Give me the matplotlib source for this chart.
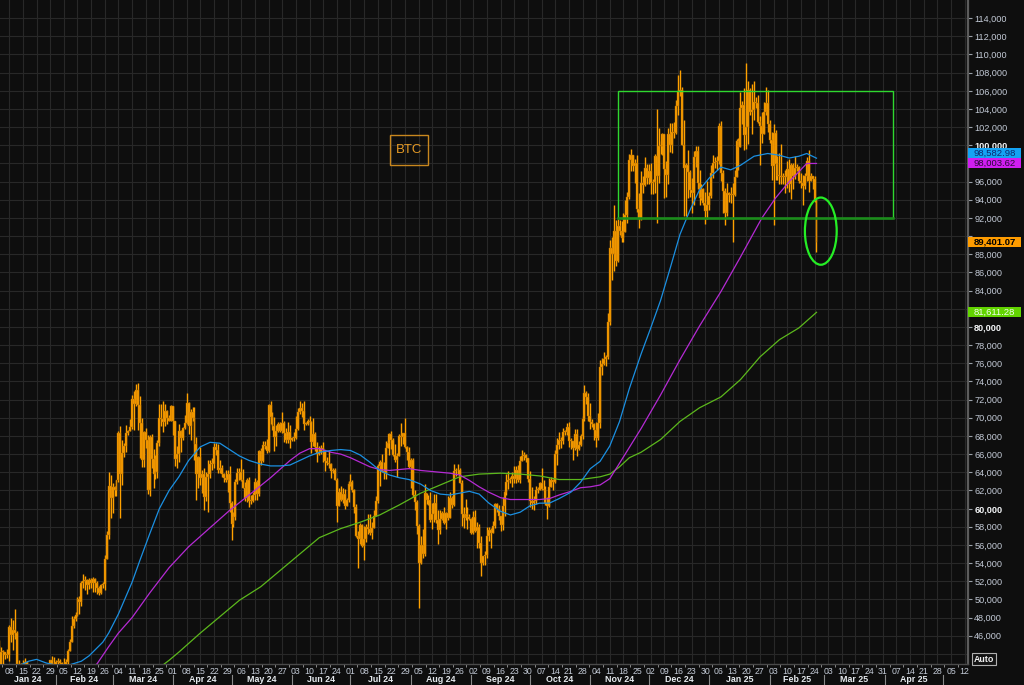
import matplotlib
matplotlib.use("Agg")
import matplotlib.pyplot as plt
import matplotlib.dates as mdates
import matplotlib.transforms as mtransforms
from matplotlib.patches import Rectangle, Ellipse
import numpy as np
import pandas as pd

plt.rcParams['font.family'] = ['Liberation Sans', 'DejaVu Sans']

# BTC daily candles from 1 Jan 2024, prices in $ thousands
first_open = 42.3

closes = [
    # Jan 24
    44.2, 44.9, 42.8, 44.2, 44.2, 43.9, 43.9, 47.0, 46.1, 46.6, 46.3, 42.9, 42.8, 41.7, 42.5, 43.1,
    42.7, 41.3, 41.6, 41.7, 41.6, 39.5, 39.8, 40.1, 40.0, 41.8, 42.1, 42.0, 43.3, 42.9, 42.6,
    # Feb 24
    43.1, 43.2, 43.0, 42.6, 42.7, 43.1, 44.3, 45.3, 47.1, 47.8, 48.3, 50.0, 49.7, 51.8, 52.0,
    52.1, 51.6, 52.1, 51.8, 52.3, 51.8, 51.3, 50.7, 51.6, 51.7, 54.5, 57.1, 62.5, 61.2,
    # Mar 24
    62.4, 62.0, 63.2, 68.3, 63.8, 66.1, 66.9, 68.3, 68.5, 69.0, 72.1, 71.5, 73.1, 71.4, 69.4, 65.3,
    68.4, 67.6, 62.0, 67.9, 65.5, 63.8, 64.0, 67.2, 70.0, 69.9, 69.5, 70.8, 70.0, 69.7, 71.3,
    # Apr 24
    69.7, 65.5, 66.0, 68.5, 67.8, 68.9, 69.4, 71.6, 69.1, 70.6, 70.0, 67.1, 63.8, 65.7, 63.4,
    63.8, 61.3, 63.5, 63.8, 64.9, 64.9, 66.8, 66.4, 64.3, 64.5, 63.8, 63.4, 63.1, 63.8, 60.6,
    # May 24
    58.3, 59.1, 62.9, 63.9, 64.0, 63.2, 62.3, 61.2, 63.1, 60.8, 60.8, 61.5, 62.9, 61.6, 66.3, 65.2,
    67.0, 66.9, 66.3, 71.4, 70.1, 69.1, 67.9, 68.5, 69.3, 68.5, 69.4, 68.3, 67.6, 68.4, 67.5,
    # Jun 24
    67.8, 67.8, 68.8, 70.6, 71.1, 70.8, 69.3, 69.3, 69.6, 69.5, 67.3, 68.2, 66.8, 66.0, 66.2,
    66.7, 66.5, 65.2, 65.0, 64.9, 64.1, 64.3, 63.2, 60.3, 61.8, 60.9, 61.6, 60.3, 61.0, 62.7,
    # Jul 24
    62.9, 62.1, 60.2, 57.0, 56.7, 58.2, 55.9, 56.7, 58.0, 57.7, 57.3, 57.9, 59.2, 60.8, 64.7, 65.1,
    64.1, 63.9, 66.7, 67.2, 68.2, 67.6, 65.9, 65.4, 65.8, 68.0, 67.9, 68.3, 66.8, 66.2, 64.6,
    # Aug 24
    65.4, 61.5, 60.7, 58.1, 54.0, 56.0, 55.0, 61.7, 60.9, 60.9, 58.7, 59.4, 60.6, 58.7, 57.6, 58.9,
    59.5, 58.4, 59.5, 59.0, 61.2, 60.4, 64.1, 64.2, 64.2, 62.8, 59.4, 59.0, 59.4, 59.1, 58.9,
    # Sep 24
    57.3, 59.1, 57.5, 58.0, 56.2, 54.0, 54.8, 54.9, 57.0, 57.6, 57.3, 58.1, 60.5, 60.0, 59.2,
    58.2, 60.3, 61.8, 62.9, 63.2, 63.3, 63.6, 63.3, 64.3, 63.1, 65.2, 65.8, 65.9, 65.6, 63.3,
    # Oct 24
    60.8, 60.6, 60.8, 62.1, 62.1, 62.8, 62.2, 62.1, 60.6, 60.3, 62.4, 63.2, 62.9, 66.0, 67.0, 67.6,
    67.4, 68.4, 68.4, 69.0, 67.4, 67.4, 66.7, 68.2, 66.6, 67.0, 68.0, 69.9, 72.7, 72.3, 70.2,
    # Nov 24
    69.5, 69.3, 68.7, 67.8, 69.4, 75.6, 75.9, 76.5, 76.7, 80.5, 88.7, 88.0, 90.6, 87.3, 91.1,
    90.6, 89.8, 90.5, 92.3, 94.3, 98.4, 98.9, 97.7, 98.0, 93.0, 91.9, 95.9, 95.6, 97.5, 96.4,
    # Dec 24
    97.2, 95.9, 96.0, 98.8, 96.6, 99.9, 99.9, 101.2, 97.4, 96.7, 101.2, 100.0, 101.5, 101.4, 104.3, 106.0,
    106.1, 100.0, 97.5, 97.8, 97.1, 95.1, 94.7, 98.7, 99.4, 95.8, 94.2, 95.2, 93.7, 92.8, 93.4,
    # Jan 25
    94.4, 96.9, 98.1, 98.2, 98.3, 102.1, 96.9, 95.0, 92.5, 94.7, 94.5, 94.5, 94.5, 96.5, 100.5, 99.8,
    104.1, 104.4, 101.1, 102.0, 106.1, 103.7, 103.9, 104.8, 104.7, 102.6, 102.1, 101.3, 103.7, 104.7, 102.4,
    # Feb 25
    100.6, 97.7, 101.4, 97.9, 96.6, 96.6, 96.5, 96.5, 96.5, 97.4, 95.7, 97.8, 96.6,
    97.5, 97.6, 96.1, 95.8, 95.5, 96.6, 98.3, 96.1, 96.6, 96.3, 94.0, 89.40107,
]

highs = [
    44.2, 45.9, 45.5, 44.8, 44.4, 44.2, 44.5, 47.2, 47.9, 47.7, 49.0, 46.5, 43.3, 43.0, 43.3, 43.6,
    43.2, 42.9, 42.2, 41.9, 41.9, 41.7, 40.5, 40.5, 40.3, 42.2, 42.2, 42.8, 43.3, 43.8, 43.7,
    43.3, 43.5, 43.4, 43.1, 43.5, 43.4, 44.5, 45.6, 48.2, 48.2, 48.6, 50.3, 50.4, 52.0, 52.8,
    52.6, 52.2, 52.4, 52.4, 52.5, 52.4, 52.0, 51.5, 51.7, 51.9, 54.9, 57.5, 64.0, 63.7,
    62.8, 62.5, 63.2, 68.5, 69.1, 67.6, 67.2, 69.2, 68.7, 69.9, 72.5, 72.9, 73.7, 73.8, 72.4, 70.0,
    68.5, 68.9, 68.1, 68.1, 68.2, 66.6, 65.9, 67.6, 71.5, 71.5, 71.8, 71.5, 70.9, 70.3, 71.4,
    71.3, 69.7, 66.9, 69.3, 68.7, 69.0, 70.3, 72.7, 71.7, 71.0, 71.2, 71.2, 67.9, 65.8, 66.8,
    64.3, 64.5, 64.0, 65.4, 65.4, 65.6, 67.2, 67.2, 67.1, 65.3, 64.8, 63.9, 64.3, 64.2, 64.7,
    60.8, 59.6, 63.3, 64.5, 64.5, 65.5, 64.4, 62.9, 63.4, 63.5, 61.5, 61.8, 63.4, 63.1, 66.4, 66.7,
    67.4, 67.4, 67.7, 71.5, 71.9, 70.6, 70.1, 69.2, 69.5, 69.5, 70.6, 69.6, 68.9, 69.5, 69.2,
    67.9, 68.4, 70.2, 71.1, 71.8, 71.6, 71.9, 69.5, 69.9, 70.2, 69.6, 70.0, 68.4, 67.3, 66.9,
    67.0, 67.3, 66.5, 65.7, 66.5, 65.0, 64.5, 64.5, 63.4, 62.3, 62.5, 62.3, 62.2, 61.2, 63.0,
    63.8, 63.2, 62.2, 60.5, 57.5, 58.4, 58.3, 58.1, 58.3, 59.4, 59.4, 58.5, 59.8, 61.4, 64.9, 65.3,
    66.0, 65.1, 67.4, 67.6, 68.3, 68.5, 67.8, 67.1, 66.1, 68.2, 69.4, 68.3, 70.0, 66.9, 66.8,
    65.6, 65.6, 62.1, 61.0, 58.3, 57.0, 57.7, 62.7, 61.7, 61.5, 61.8, 60.6, 61.6, 61.6, 59.8, 59.8,
    59.7, 60.2, 59.6, 61.4, 61.8, 61.4, 64.9, 64.5, 64.9, 64.5, 63.2, 60.2, 61.1, 60.2, 59.4,
    59.0, 59.7, 59.8, 58.5, 58.3, 57.0, 54.8, 55.3, 58.0, 58.0, 57.9, 58.6, 60.6, 60.6, 60.4,
    59.2, 61.3, 62.0, 63.8, 64.1, 63.5, 64.0, 64.7, 64.7, 64.8, 65.8, 66.5, 66.2, 66.0, 65.6,
    64.1, 62.4, 61.4, 62.5, 62.4, 62.9, 64.5, 63.2, 62.5, 61.3, 63.4, 63.5, 63.3, 66.5, 67.8, 68.4,
    67.9, 68.9, 68.7, 69.4, 69.5, 67.8, 67.4, 68.8, 68.8, 67.4, 68.2, 70.2, 73.6, 72.9, 72.7,
    71.6, 69.9, 69.4, 69.5, 70.5, 76.4, 76.6, 77.2, 76.9, 81.5, 89.6, 89.9, 93.4, 91.8, 91.9,
    91.8, 91.7, 92.6, 94.0, 94.9, 99.0, 99.6, 98.8, 98.5, 98.9, 94.7, 97.2, 96.6, 98.7, 97.9,
    97.9, 98.1, 96.3, 99.0, 104.0, 101.9, 100.5, 101.4, 101.2, 98.3, 101.9, 102.5, 102.5, 102.6, 105.0, 107.7,
    108.3, 106.4, 102.8, 98.0, 99.5, 97.3, 96.4, 99.4, 99.9, 99.9, 97.3, 95.7, 95.3, 94.9, 96.1,
    94.9, 97.8, 98.9, 98.7, 98.8, 102.5, 102.7, 97.3, 95.3, 95.8, 94.9, 95.4, 95.9, 97.3, 100.7, 100.8,
    105.9, 104.9, 106.3, 109.1, 107.1, 106.3, 106.8, 107.1, 105.3, 105.5, 103.2, 103.7, 104.8, 106.4, 106.1,
    102.8, 101.5, 102.4, 101.7, 98.8, 99.1, 100.1, 96.9, 97.3, 98.3, 98.5, 98.1, 98.0,
    98.8, 97.9, 97.7, 97.0, 96.7, 96.9, 98.7, 99.5, 96.9, 96.6, 96.6, 94.0,
]

lows = [
    42.2, 44.2, 40.8, 42.6, 42.5, 43.4, 43.6, 43.2, 45.3, 44.4, 45.6, 41.6, 42.4, 41.7, 41.7, 42.1,
    42.2, 40.7, 40.3, 41.5, 41.5, 39.5, 38.6, 39.5, 39.6, 39.8, 41.7, 41.6, 41.8, 42.7, 42.3,
    41.9, 42.6, 42.9, 42.2, 42.3, 42.6, 42.8, 44.3, 45.3, 46.9, 47.6, 48.2, 48.4, 49.3, 51.3,
    51.0, 50.6, 51.2, 51.3, 50.8, 50.8, 50.6, 50.5, 50.6, 51.3, 51.0, 54.4, 56.7, 59.0,
    59.5, 61.4, 61.4, 62.9, 59.0, 62.6, 65.7, 66.2, 68.1, 68.6, 68.8, 68.6, 71.3, 68.7, 65.6, 64.6,
    64.6, 66.7, 61.6, 61.4, 64.5, 62.3, 63.3, 63.4, 66.9, 69.1, 68.4, 69.1, 69.3, 69.6, 69.6,
    68.1, 64.7, 64.5, 65.1, 66.2, 67.5, 68.8, 69.3, 68.2, 67.5, 69.6, 65.3, 60.9, 62.3, 62.6,
    61.7, 59.8, 60.8, 59.6, 63.4, 64.2, 64.5, 65.9, 63.9, 63.9, 63.5, 62.9, 62.9, 61.8, 59.6,
    56.5, 58.0, 58.8, 62.7, 63.2, 63.0, 62.3, 60.8, 60.7, 60.2, 60.5, 60.7, 60.9, 60.9, 61.4, 64.8,
    65.1, 66.6, 66.1, 66.2, 69.3, 68.6, 66.3, 66.9, 68.4, 68.4, 68.3, 67.3, 67.2, 67.2, 66.7,
    67.4, 67.4, 67.7, 68.6, 70.4, 70.1, 68.6, 69.2, 69.2, 69.3, 66.1, 66.9, 66.3, 65.1, 65.9,
    66.0, 65.1, 64.1, 64.8, 64.5, 63.4, 63.9, 63.2, 58.5, 60.5, 60.8, 60.6, 60.0, 60.5, 60.7,
    62.5, 61.8, 59.5, 56.9, 53.5, 56.1, 55.8, 54.3, 56.3, 57.2, 57.1, 56.6, 57.9, 59.9, 60.6, 62.5,
    64.0, 63.3, 63.3, 66.7, 65.9, 66.6, 65.8, 65.1, 63.5, 65.8, 66.9, 67.1, 66.7, 65.4, 64.5,
    62.3, 61.3, 59.9, 57.2, 49.1, 53.9, 54.6, 54.8, 60.5, 60.4, 58.5, 57.7, 58.5, 58.4, 56.1, 57.2,
    58.8, 58.3, 57.8, 58.7, 59.0, 60.1, 60.3, 63.6, 63.8, 62.8, 58.1, 57.9, 58.8, 57.8, 58.7,
    57.2, 57.2, 57.4, 55.7, 55.7, 52.6, 53.8, 53.8, 54.6, 56.4, 55.7, 57.3, 57.9, 59.6, 58.7,
    57.5, 57.6, 59.2, 61.5, 62.2, 62.8, 62.4, 62.8, 62.8, 62.9, 62.8, 65.5, 65.4, 65.1, 62.9,
    60.2, 60.0, 59.9, 60.5, 61.7, 62.1, 62.1, 61.9, 60.4, 58.9, 60.2, 62.4, 62.0, 62.8, 64.8, 66.6,
    66.7, 67.1, 68.1, 68.1, 66.8, 66.6, 65.3, 66.5, 65.8, 66.5, 66.9, 67.7, 69.7, 71.5, 69.7,
    68.8, 69.0, 67.5, 66.8, 67.5, 68.9, 74.7, 75.8, 75.7, 76.5, 80.2, 85.2, 86.2, 86.7, 87.1,
    90.1, 89.3, 89.4, 90.8, 91.5, 94.1, 97.2, 97.2, 95.9, 92.7, 90.9, 91.8, 94.7, 95.5, 95.7,
    95.7, 94.6, 94.6, 94.8, 91.5, 95.9, 99.0, 98.9, 94.2, 94.3, 95.7, 99.3, 99.2, 100.8, 101.3, 103.3,
    105.4, 100.0, 92.2, 92.2, 94.2, 94.3, 92.5, 93.4, 97.6, 95.2, 93.4, 94.0, 93.4, 91.3, 91.9,
    92.9, 94.2, 96.4, 97.5, 97.3, 97.9, 96.1, 92.5, 91.2, 92.2, 93.8, 93.7, 89.3, 94.4, 96.5, 97.3,
    99.9, 102.3, 99.5, 99.6, 100.1, 103.3, 101.3, 102.8, 104.1, 102.5, 97.8, 100.3, 101.3, 103.3, 101.5,
    100.3, 96.2, 91.2, 96.2, 96.2, 95.7, 95.7, 95.7, 94.7, 95.3, 94.9, 94.1, 95.2,
    96.3, 97.2, 95.9, 95.3, 93.4, 95.2, 96.1, 94.9, 96.2, 95.2, 93.8, 88.2,
]

# moving averages ($ thousands)
ma50_dates = ["2024-01-03", "2024-01-12", "2024-01-18", "2024-01-22", "2024-01-27", "2024-02-02",
              "2024-02-08", "2024-02-14", "2024-02-18", "2024-02-25", "2024-02-28", "2024-03-04",
              "2024-03-11", "2024-03-15", "2024-03-20", "2024-03-25", "2024-03-30", "2024-04-04",
              "2024-04-09", "2024-04-15", "2024-04-20", "2024-04-25", "2024-04-30", "2024-05-05",
              "2024-05-10", "2024-05-16", "2024-05-21", "2024-05-26", "2024-05-31", "2024-06-05",
              "2024-06-10", "2024-06-15", "2024-06-21", "2024-06-26", "2024-07-01", "2024-07-06",
              "2024-07-11", "2024-07-16", "2024-07-21", "2024-07-26", "2024-07-31", "2024-08-06",
              "2024-08-11", "2024-08-16", "2024-08-21", "2024-08-26", "2024-08-31", "2024-09-05",
              "2024-09-10", "2024-09-16", "2024-09-21", "2024-09-26", "2024-10-01", "2024-10-06",
              "2024-10-11", "2024-10-16", "2024-10-22", "2024-10-27", "2024-11-01", "2024-11-06",
              "2024-11-11", "2024-11-16", "2024-11-21", "2024-11-27", "2024-12-02", "2024-12-07",
              "2024-12-12", "2024-12-17", "2024-12-22", "2024-12-27", "2025-01-01", "2025-01-07",
              "2025-01-12", "2025-01-17", "2025-01-24", "2025-01-31", "2025-02-06", "2025-02-11",
              "2025-02-16", "2025-02-20", "2025-02-25"]
ma50_vals = [41.8, 42.6, 43.2, 43.4, 43.0, 42.7, 42.8, 43.2, 43.8, 45.3, 46.3, 48.4,
             51.9, 54.3, 57.2, 60.0, 62.0, 63.5, 65.3, 66.8, 67.3, 67.2, 66.5, 65.8,
             65.3, 64.9, 64.7, 64.7, 64.8, 65.3, 65.8, 66.2, 66.4, 66.5, 66.4, 65.9,
             65.1, 64.2, 63.7, 63.4, 63.2, 62.7, 62.0, 61.6, 61.5, 61.7, 61.9, 61.6,
             60.6, 59.7, 59.3, 59.6, 60.3, 60.6, 60.6, 61.1, 61.8, 62.9, 64.4, 65.2,
             66.9, 69.6, 73.2, 77.0, 79.9, 82.9, 86.5, 90.2, 92.8, 95.1, 96.4, 97.6,
             97.3, 97.8, 98.8, 99.1, 98.9, 98.6, 98.8, 99.1, 98.58298]

ma100_dates = ["2024-02-18", "2024-02-22", "2024-02-28", "2024-03-04", "2024-03-11", "2024-03-20",
               "2024-03-30", "2024-04-09", "2024-04-20", "2024-04-30", "2024-05-10", "2024-05-21",
               "2024-05-31", "2024-06-05", "2024-06-10", "2024-06-15", "2024-06-21", "2024-06-26",
               "2024-07-01", "2024-07-06", "2024-07-11", "2024-07-16", "2024-07-21", "2024-07-26",
               "2024-07-31", "2024-08-06", "2024-08-11", "2024-08-16", "2024-08-21", "2024-08-26",
               "2024-08-31", "2024-09-05", "2024-09-10", "2024-09-16", "2024-09-21", "2024-09-26",
               "2024-10-01", "2024-10-06", "2024-10-11", "2024-10-16", "2024-10-22", "2024-10-27",
               "2024-11-01", "2024-11-06", "2024-11-11", "2024-11-16", "2024-11-27", "2024-12-07",
               "2024-12-17", "2024-12-27", "2025-01-07", "2025-01-17", "2025-01-28", "2025-02-04",
               "2025-02-11", "2025-02-16", "2025-02-20", "2025-02-25"]
ma100_vals = [42.3, 42.9, 44.8, 46.3, 48.0, 50.7, 53.5, 55.8, 57.9, 59.8, 61.5, 63.4,
              65.3, 66.1, 66.6, 66.6, 66.2, 66.0, 65.6, 65.1, 64.6, 64.3, 64.2, 64.3,
              64.4, 64.2, 64.1, 64.0, 63.9, 63.7, 63.1, 62.4, 61.8, 61.2, 61.0, 61.0,
              61.0, 61.0, 61.1, 61.5, 61.9, 62.3, 62.4, 62.6, 63.3, 65.0, 68.8, 72.5,
              76.4, 80.1, 83.9, 87.7, 92.0, 94.2, 96.0, 97.1, 98.0, 98.00362]

ma200_dates = ["2024-03-22", "2024-03-30", "2024-04-04", "2024-04-15", "2024-04-25", "2024-05-05",
               "2024-05-16", "2024-05-26", "2024-06-05", "2024-06-15", "2024-06-26", "2024-07-06",
               "2024-07-16", "2024-07-26", "2024-08-06", "2024-08-16", "2024-08-26", "2024-09-05",
               "2024-09-16", "2024-09-26", "2024-10-06", "2024-10-16", "2024-10-27", "2024-11-06",
               "2024-11-11", "2024-11-16", "2024-11-21", "2024-11-27", "2024-12-07", "2024-12-17",
               "2024-12-27", "2025-01-07", "2025-01-17", "2025-01-27", "2025-02-06", "2025-02-16",
               "2025-02-25"]
ma200_vals = [42.0, 43.3, 44.2, 46.3, 48.1, 49.9, 51.4, 53.2, 55.0, 56.8, 57.8, 58.5,
              59.3, 60.4, 61.7, 62.6, 63.5, 63.8, 63.9, 63.8, 63.6, 63.2, 63.2, 63.5,
              63.8, 64.6, 65.6, 66.2, 67.6, 69.6, 71.1, 72.3, 74.2, 76.7, 78.6, 79.9,
              81.61128]

# drawn annotations: range box and the circled breakdown
zone_start, zone_end = "2024-11-15 07:00", "2025-04-05 10:00"
zone_low, zone_high = 92.0, 106.0
ring_center, ring_y = "2025-02-27 05:00", 90.55
ring_days, ring_height = 16.3, 7.4

ORANGE = '#ffa100'
BLUE = '#1b90e2'
MAGENTA = '#b52ad4'
OLIVE = '#5cb81c'
BG = '#0e0e0e'
GRID = '#282828'

# ---------------------------------------------------------------- data prep
days = pd.date_range("2024-01-01", periods=len(closes), freq="D")
c = np.array(closes)
o = np.concatenate([[first_open], c[:-1]])
h = np.maximum(np.array(highs), np.maximum(o, c))
l = np.minimum(np.array(lows), np.minimum(o, c))
x = mdates.date2num(days)

base = mdates.date2num(pd.Timestamp("2024-01-01"))
xlo, xhi = base + 2.26, base + 498.7
ylo, yhi = 42.89, 116.0

# ---------------------------------------------------------------- figure
fig = plt.figure(figsize=(10.24, 6.85), dpi=100)
fig.patch.set_facecolor(BG)
ax = fig.add_axes([0, 21 / 685, 968 / 1024, 664 / 685])
ax.set_facecolor(BG)

# candles
ax.vlines(x, l, h, color=ORANGE, lw=1.0, zorder=3)
body_lo = np.minimum(o, c)
body_hi = np.maximum(o, c)
ax.bar(x, np.maximum(body_hi - body_lo, 0.1), bottom=body_lo, width=1.0,
       color=ORANGE, ec='#b06a00', linewidth=0.3, zorder=3)

# moving averages
ax.plot(pd.to_datetime(ma200_dates), ma200_vals, color=OLIVE, lw=0.9, zorder=4)
ax.plot(pd.to_datetime(ma100_dates), ma100_vals, color=MAGENTA, lw=0.9, zorder=4)
ax.plot(pd.to_datetime(ma50_dates), ma50_vals, color=BLUE, lw=0.9, zorder=4)

# range box + ring
zx0 = mdates.date2num(pd.Timestamp(zone_start))
zx1 = mdates.date2num(pd.Timestamp(zone_end))
ax.add_patch(Rectangle((zx0, zone_low), zx1 - zx0, zone_high - zone_low,
                       fill=False, ec='#2fd82f', lw=1.0, zorder=5))
ax.plot([zx0, zx1], [zone_low, zone_low], color='#1b8c1b', lw=1.8, zorder=5)
ax.add_patch(Ellipse((mdates.date2num(pd.Timestamp(ring_center)), ring_y), ring_days, ring_height,
                     fill=False, ec='#25ee25', lw=1.6, zorder=6))

ax.set_xlim(xlo, xhi)
ax.set_ylim(ylo, yhi)

# spines
for s in ['left', 'top']:
    ax.spines[s].set_visible(False)
ax.spines['right'].set_color('#5c5c5c')
ax.spines['right'].set_linewidth(1.6)
ax.spines['bottom'].set_color('#4a4a4a')
ax.spines['bottom'].set_linewidth(1.0)

# last-value tags on the price axis (pushed up when they would collide)
box_h = 10 / (664 / (yhi - ylo))
tags = [
    (ma200_vals[-1], '#62d400', '#f2fff0', 'normal'),
    (closes[-1], '#ff9c00', '#000000', 'bold'),
    (ma100_vals[-1], '#d01ef0', '#2a0838', 'normal'),
    (ma50_vals[-1], '#14a3f4', '#0a2a70', 'normal'),
]
tag_pos = []
prev_top = -1e9
for val, fc, tc, wt in sorted(tags, key=lambda t: t[0]):
    yc = max(val, prev_top + box_h / 2)
    prev_top = yc + box_h / 2
    tag_pos.append((yc, val, fc, tc, wt))

# y axis on the right; labels hidden where a tag covers them
yticks = np.arange(46, 115, 2)
def covered(v):
    return any(abs(v - t[0]) < box_h * 0.65 for t in tag_pos)
ylabels = ["" if covered(v) else f"{v * 1000:,.0f}" for v in yticks]
ax.yaxis.tick_right()
ax.set_yticks(yticks, labels=ylabels)
ax.tick_params(axis='y', length=3, width=0.8, color='#9aa0a8', pad=1.5,
               labelsize=6.6, labelcolor='#c3cad6')
for lbl, v in zip(ax.get_yticklabels(), list(yticks) * 2):
    if v % 20 == 0:
        lbl.set_fontweight('bold')
        lbl.set_color('#f4f6f8')
ax.grid(True, axis='y', color=GRID, lw=0.8, zorder=0)
ax.axhline(44, color=GRID, lw=0.8, zorder=0)

# x axis: Monday labels, ticks in between, month names below
mondays = pd.date_range("2024-01-01", "2025-05-31", freq="W-MON")
ax.xaxis.set_major_locator(mdates.WeekdayLocator(byweekday=mdates.MO))
ax.xaxis.set_major_formatter(mdates.DateFormatter('%d'))
ax.xaxis.set_minor_locator(matplotlib.ticker.FixedLocator(mdates.date2num(mondays) + 3.5))
ax.tick_params(axis='x', which='major', length=0, pad=1.8, labelsize=6.3, labelcolor='#c3cad6')
ax.tick_params(axis='x', which='minor', length=2.5, width=0.7, color='#8a8a8a')
ax.grid(True, axis='x', which='major', color=GRID, lw=0.8, zorder=0)

tr = mtransforms.blended_transform_factory(ax.transData, ax.transAxes)
month_starts = pd.date_range("2024-01-01", "2025-06-01", freq="MS")
for m0, m1 in zip(month_starts[:-1], month_starts[1:]):
    a = max(mdates.date2num(m0), xlo)
    b = min(mdates.date2num(m1), xhi)
    if b - a < 20:
        continue
    ax.text((a + b) / 2, -(675.5 - 664) / 664, m0.strftime('%b %y'), transform=tr,
            ha='center', va='top', fontsize=6.4, fontweight='bold', color='#e6eaee', clip_on=False)
for m in month_starts:
    mx = mdates.date2num(m)
    if xlo < mx < xhi:
        ax.plot([mx, mx], [-(675 - 664) / 664, -0.04], transform=tr, color='#8a8a8a',
                lw=0.8, clip_on=False)

ty = mtransforms.blended_transform_factory(ax.transAxes, ax.transData)
bx0, bx1 = 1.0, 1021 / 968
for yc, val, fc, tc, wt in tag_pos:
    ax.add_patch(Rectangle((bx0, yc - box_h / 2), bx1 - bx0, box_h, transform=ty,
                           fc=fc, ec='none', clip_on=False, zorder=8))
    ax.text((bx0 + bx1) / 2, yc, f"{val * 1000:,.2f}", transform=ty, ha='center', va='center',
            fontsize=6.8, color=tc, fontweight=wt, clip_on=False, zorder=9)

# BTC title box
ax.add_patch(Rectangle((390 / 968, 1 - 165 / 664), 38 / 968, 30 / 664, transform=ax.transAxes,
                       fill=False, ec='#c8871e', lw=1.0, zorder=7))
ax.text(409 / 968, 1 - 150 / 664, 'BTC', transform=ax.transAxes, ha='center', va='center',
        fontsize=9.5, color='#e59a25', zorder=7)

# "Auto" button
fig.text(984 / 1024, 1 - 659 / 685, 'Auto', ha='center', va='center', fontsize=6.4,
         fontweight='bold', color='#f0f0f0',
         bbox=dict(boxstyle='square,pad=0.15', fc='#141414', ec='#b0b0b0', lw=0.8))

fig.savefig('out.png', dpi=100, facecolor=fig.get_facecolor())
